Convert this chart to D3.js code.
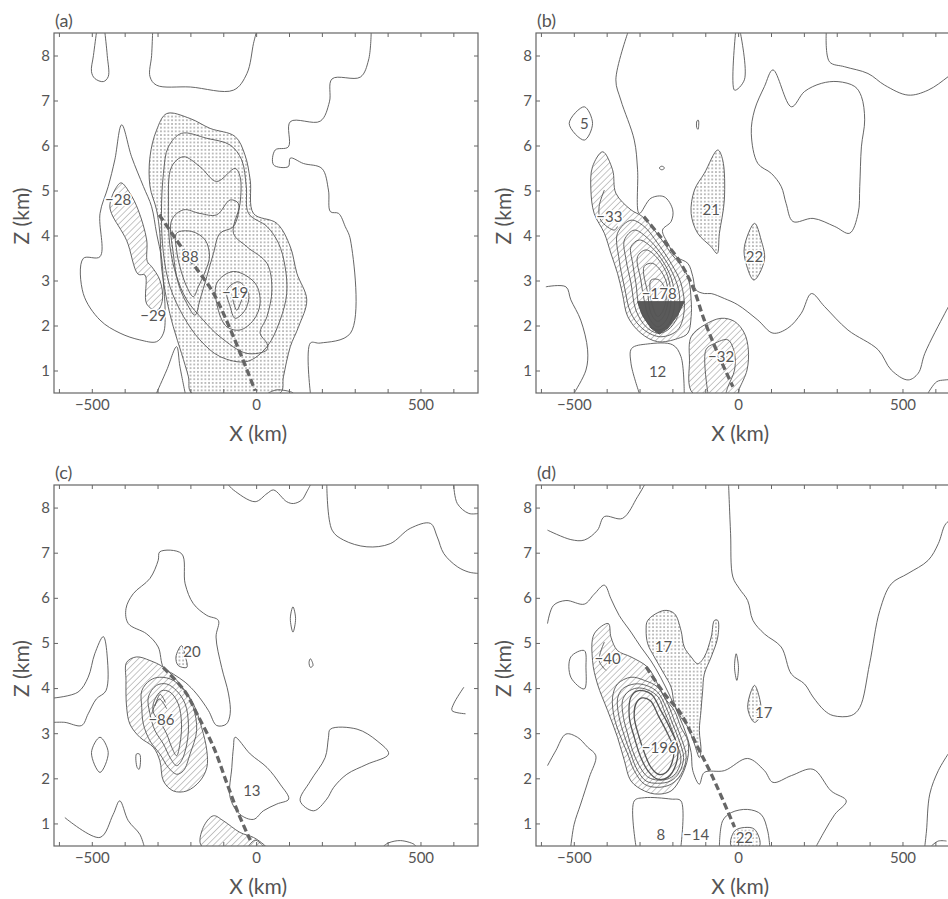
<!DOCTYPE html>
<html><head><meta charset="utf-8">
<script src="https://cdn.jsdelivr.net/npm/d3@7"></script>
<style>
body{margin:0;background:#fff;}
svg text{font-family:Lato,"Open Sans",sans-serif;fill:#555;}
</style></head><body>
<svg id="chart" width="948" height="899"></svg>
<script>
// ---------- axis values ----------
const xTickValues = [-600,-500,-400,-300,-200,-100,0,100,200,300,400,500,600];
const xTickLabels = [-500,0,500];
const zTickValues = [1,2,3,4,5,6,7,8];
const panelNames = ["(a)","(b)","(c)","(d)"];

// ---------- panel (a) ----------
const aOpen = [
 [[-486,8.5],[-495,8.0],[-501,7.64],[-491,7.49],[-465,7.42],[-450,7.53],[-453,8.0],[-460,8.5]],
 [[-315,8.5],[-318,8.0],[-323,7.53],[-303,7.34],[-200,7.3],[-69,7.23],[-28,7.6],[-8,8.27],[0,8.5]],
 [[350,8.5],[342,7.9],[317,7.52],[231,7.48],[223,6.97],[195,6.54],[104,6.53],[98,5.97],[58,5.9],[53,5.57],[98,5.53],[104,5.72],[144,5.6],[200,5.49],[220,5.01],[226,4.53],[251,4.49],[271,4.2],[287,3.9],[287,1.83],[195,1.61],[165,1.61],[165,0.5]],
 [[37,0.5],[63,0.57],[104,0.53],[113,0.5]],
 [[-303,0.5],[-272,1.01],[-242,1.53],[-232,1.09],[-216,0.5]],
 [[-74,2.68],[-59,2.34],[-41,2.64]]
];
const aClosed = [
 [[-409,6.46],[-379,5.75],[-343,5.09],[-318,4.64],[-303,4.05],[-287,3.46],[-282,2.94],[-277,2.34],[-282,1.83],[-303,1.64],[-354,1.68],[-414,1.83],[-475,2.12],[-526,2.71],[-526,3.49],[-475,3.53],[-475,4.49],[-450,5.09],[-430,5.68]],
 [[-267,5.97],[-227,6.27],[-150,6.16],[-79,6.01],[-44,5.68],[-30,5.09],[-23,4.49],[33,4.2],[68,3.83],[88,3.31],[93,2.71],[73,2.12],[33,1.53],[-28,1.2],[-110,1.31],[-171,1.68],[-221,2.2],[-262,2.86],[-282,3.6],[-288,4.49],[-282,5.38]],
 [[-257,5.53],[-221,5.75],[-171,5.53],[-120,5.2],[-64,5.49],[-49,5.31],[-49,4.71],[-69,4.05],[-28,3.75],[33,3.38],[48,2.79],[33,2.2],[12,1.83],[33,1.6],[33,1.46],[-28,1.38],[-110,1.75],[-161,2.12],[-211,2.57],[-242,3.09],[-262,3.75],[-267,4.64]],
 [[-257,4.34],[-221,4.57],[-171,4.49],[-120,4.46],[-79,4.79],[-54,4.71],[-69,4.2],[-110,4.05],[-130,3.6],[-150,3.09],[-171,2.57],[-186,2.23],[-211,2.49],[-237,2.94],[-252,3.6]],
 [[-242,4.05],[-196,4.09],[-155,3.9],[-142,3.53],[-155,3.2],[-176,2.86],[-191,2.64],[-211,2.86],[-232,3.31],[-242,3.68]],
 [[-120,2.94],[-69,3.2],[-3,2.94],[12,2.49],[-8,2.12],[-49,1.9],[-89,1.97],[-115,2.34]],
 [[-89,2.79],[-54,2.97],[-23,2.71],[-34,2.34],[-64,2.16],[-79,2.42]]
];
const aHatch = [
 [[-411,5.17],[-384,4.94],[-359,4.57],[-333,3.9],[-331,3.42],[-318,3.31],[-293,3.01],[-285,2.57],[-301,2.33],[-333,2.48],[-338,3.12],[-359,3.14],[-394,3.89],[-440,4.49],[-445,4.68],[-430,5.01]]
];
const aStipple = [
 [[-196,0.5],[-206,0.86],[-227,1.38],[-252,1.97],[-272,2.57],[-288,3.31],[-293,4.05],[-303,4.57],[-323,5.09],[-323,5.75],[-303,6.34],[-272,6.71],[-201,6.6],[-140,6.38],[-64,6.2],[-34,5.79],[-18,5.23],[-8,4.49],[63,4.27],[104,3.75],[124,3.16],[154,2.57],[129,1.97],[104,1.53],[83,0.86],[73,0.5]]
];
const aFront = [[-295,4.46],[-232,3.79],[-180,3.25],[-130,2.72],[-69,1.75],[-3,0.55]];
const aLabels = [["−28",-420,4.79],["−29",-313,2.23],["88",-201,3.53],["−19",-64,2.73]];

// ---------- panel (b) ----------
const bOpen = [
 [[-336,8.5],[-372,7.46],[-357,7.01],[-316,6.12],[-306,5.46],[-301,4.49],[-265,4.83],[-225,4.86],[-199,4.57],[-204,4.31],[-230,4.12],[-214,3.83],[-189,3.53],[-153,3.38],[-138,3.09],[-128,2.79],[-103,2.71],[-82,2.71],[-42,2.6],[-1,2.46],[60,2.12],[106,1.83],[151,1.94],[192,2.27],[223,2.71],[263,2.42],[334,1.9],[426,1.46],[466,1.01],[517,0.79],[548,0.94],[568,1.38],[629,2.27],[643,2.46],[675,2.9]],
 [[268,8.5],[278,7.86],[324,7.75],[395,7.6],[446,7.34],[517,7.12],[578,7.23],[639,7.53],[675,7.75]],
 [[-8,8.5],[-11,7.23],[19,7.46],[7,8.5]],
 [[-585,2.86],[-524,2.86],[-509,2.57],[-479,2.12],[-458,1.46],[-463,1.01],[-499,0.5]],
 [[578,0.5],[604,0.75],[629,0.79],[675,0.8]],
 [[-301,0.5],[-326,1.16],[-324,1.49],[-275,1.59],[-199,1.57],[-174,1.31],[-164,0.5]],
 [[-92,0.5],[-98,1.46],[-72,1.6],[-31,1.68],[-11,1.38],[-11,1.01],[-31,0.64],[-37,0.5]],
 [[-407,5.01],[-423,4.64],[-418,4.34],[-377,4.12],[-367,4.2]]
];
const bClosed = [
 [[106,7.68],[162,6.86],[202,7.2],[253,7.38],[304,7.42],[355,7.31],[375,7.09],[385,6.57],[375,5.97],[370,5.09],[365,4.49],[339,4.05],[294,4.2],[228,4.38],[167,4.31],[146,4.71],[131,5.09],[101,5.38],[60,5.6],[40,6.27],[50,6.79],[80,7.31]],
 [[-514,6.49],[-468,6.86],[-443,6.49],[-468,6.12]],
 [[-125,6.55],[-121,6.56],[-120,6.45],[-122,6.36],[-126,6.4]],
 [[-240,5.5],[-232,5.54],[-224,5.5],[-232,5.46]],
 [[-367,4.05],[-326,4.34],[-286,4.2],[-245,3.83],[-204,3.38],[-174,2.94],[-164,2.34],[-184,1.9],[-235,1.75],[-286,1.9],[-326,2.27],[-346,2.86],[-362,3.46]],
 [[-346,3.9],[-316,4.12],[-280,3.97],[-235,3.6],[-199,3.16],[-179,2.71],[-184,2.2],[-214,1.9],[-245,1.83],[-280,1.97],[-311,2.34],[-326,2.94],[-341,3.46]],
 [[-326,3.75],[-301,3.9],[-265,3.75],[-225,3.38],[-199,2.94],[-194,2.42],[-214,2.01],[-245,1.9],[-275,2.05],[-301,2.42],[-311,2.94],[-321,3.38]],
 [[-306,3.53],[-280,3.68],[-245,3.49],[-214,3.09],[-204,2.57],[-219,2.12],[-245,1.97],[-270,2.16],[-286,2.57],[-296,3.01]],
 [[-286,3.31],[-260,3.38],[-225,3.09],[-212,2.64],[-227,2.2],[-245,2.09],[-265,2.27],[-275,2.71]],
 [[-265,3.01],[-240,3.01],[-219,2.71],[-230,2.31],[-245,2.2],[-260,2.42],[-267,2.71]]
];
const bHatch = [
 [[-412,5.86],[-382,5.46],[-372,4.94],[-326,4.57],[-291,4.42],[-255,4.12],[-225,3.83],[-204,3.6],[-179,3.38],[-153,3.09],[-143,2.57],[-143,2.2],[-153,1.83],[-184,1.71],[-245,1.64],[-296,1.83],[-336,2.2],[-352,2.71],[-367,3.16],[-387,3.6],[-407,4.05],[-438,4.49],[-448,5.01],[-443,5.53]],
 [[-138,0.5],[-148,1.23],[-143,1.75],[-103,2.01],[-52,2.16],[-11,2.09],[19,1.83],[31,1.46],[27,1.01],[4,0.6],[-1,0.5]]
];
const bStipple = [
 [[-62,5.9],[-103,5.38],[-133,5.01],[-143,4.49],[-123,4.05],[-82,3.75],[-64,3.6],[-57,4.05],[-42,4.79],[-47,5.68]],
 [[50,4.27],[19,3.75],[24,3.38],[48,3.01],[80,3.46],[70,3.9]]
];
const bDark = [
 [[-306,2.53],[-164,2.53],[-184,2.23],[-214,1.94],[-240,1.81],[-265,1.94],[-291,2.23]]
];
const bFront = [[-287,4.42],[-245,4.05],[-184,3.49],[-138,2.86],[-103,2.12],[-62,1.38],[-16,0.64]];
const bLabels = [["5",-468,6.49],["−33",-392,4.42],["−178",-240,2.72],["21",-82,4.57],["22",50,3.53],["12",-245,0.97],["−32",-52,1.31]];

// ---------- panel (c) ----------
const cOpen = [
 [[-84,8.5],[-69,8.39],[-3,8.13],[33,8.31],[53,8.39],[93,8.13],[114,8.09],[139,8.17],[154,8.35],[165,8.5]],
 [[215,8.5],[231,7.5],[266,7.28],[337,7.13],[408,7.2],[469,7.54],[530,7.65],[551,7.35],[571,6.98],[612,6.69],[647,6.57],[677,6.54]],
 [[601,8.5],[612,8.09],[647,7.87],[677,7.87]],
 [[632,4.02],[601,3.65],[596,3.5],[637,3.43]],
 [[-615,3.78],[-542,3.91],[-511,4.24],[-491,4.76],[-465,5.14],[-453,4.69],[-457,3.94],[-486,3.76],[-511,3.43],[-531,3.17],[-582,3.24],[-615,3.24]],
 [[-582,1.13],[-475,0.69],[-435,1.2],[-415,1.5],[-389,1.06],[-354,0.76],[-341,0.5]],
 [[-23,0.5],[-3,0.63],[22,0.5]],
 [[388,0.5],[403,0.57],[439,0.62],[480,0.54],[485,0.5]],
 [[-318,3.43],[-295,3.76],[-272,3.54]],
 [[-308,3.6],[-292,3.86],[-276,3.68]]
];
const cClosed = [
 [[226,3.09],[307,3.09],[368,2.83],[403,2.54],[337,2.31],[276,2.09],[236,1.8],[215,1.54],[175,1.28],[134,1.5],[165,1.94],[210,2.46],[220,2.9]],
 [[-64,2.91],[-18,2.54],[33,2.24],[73,1.87],[99,1.54],[63,1.43],[22,1.28],[-8,1.09],[-49,1.2],[-79,1.57],[-74,2.24],[-69,2.69]],
 [[-282,4.46],[-298,4.91],[-333,5.2],[-389,5.43],[-396,5.76],[-374,6.09],[-323,6.43],[-298,6.83],[-293,7.02],[-227,6.98],[-216,6.31],[-191,5.87],[-150,5.61],[-115,5.5],[-122,5.13],[-105,4.46],[-84,3.87],[-79,3.43],[-91,3.2],[-120,3.17],[-145,3.5],[-181,3.87],[-216,4.13],[-252,4.31]],
 [[-475,2.91],[-501,2.57],[-475,2.13],[-450,2.57]],
 [[-364,2.54],[-354,2.53],[-356,2.2],[-362,2.24]],
 [[112,5.8],[104,5.54],[112,5.24],[120,5.54]],
 [[165,4.65],[173,4.5],[165,4.46],[161,4.57]],
 [[-348,3.94],[-323,4.17],[-293,4.24],[-252,4.17],[-211,3.87],[-191,3.57],[-181,3.06],[-201,2.54],[-221,2.17],[-242,2.09],[-267,2.24],[-293,2.54],[-323,2.83],[-343,3.2],[-348,3.57]],
 [[-328,3.8],[-303,4.06],[-272,4.09],[-242,3.94],[-216,3.65],[-206,3.2],[-211,2.76],[-227,2.39],[-242,2.28],[-262,2.46],[-282,2.76],[-308,3.06],[-323,3.43]],
 [[-313,3.65],[-288,3.94],[-262,3.91],[-237,3.65],[-227,3.2],[-232,2.76],[-242,2.5],[-257,2.69],[-272,2.98],[-295,3.28],[-311,3.43]]
];
const cHatch = [
 [[-394,4.57],[-364,4.69],[-323,4.61],[-282,4.46],[-232,4.09],[-191,3.65],[-166,3.13],[-150,2.61],[-150,2.24],[-171,1.94],[-211,1.72],[-252,1.72],[-282,1.94],[-293,2.39],[-313,2.69],[-354,2.91],[-384,3.2],[-394,3.57],[-396,4.17]],
 [[-166,0.5],[-161,0.91],[-130,1.17],[-100,1.06],[-49,0.8],[-8,0.69],[22,0.54],[27,0.5]]
];
const cStipple = [
 [[-227,4.94],[-244,4.69],[-237,4.5],[-211,4.46],[-215,4.69]]
];
const cFront = [[-283,4.46],[-216,3.92],[-181,3.44],[-130,2.7],[-89,1.89],[-54,1.22],[-18,0.63]];
const cLabels = [["20",-195,4.8],["−86",-288,3.31],["13",-13,1.72]];

// ---------- panel (d) ----------
const dOpen = [
 [[-580,7.5],[-509,7.29],[-468,7.28],[-428,7.5],[-407,7.8],[-352,7.76],[-306,8.24],[-285,8.5]],
 [[-580,5.43],[-562,5.83],[-524,5.94],[-468,5.86],[-438,6.08],[-407,6.28],[-387,5.98],[-362,5.61],[-326,5.24],[-296,4.91],[-265,4.6],[-236,4.24],[-206,3.8],[-178,3.35],[-158,2.98],[-143,2.57],[-138,2.17],[-118,1.87],[-103,2.13],[-42,2.17],[29,2.44],[80,2.17],[106,1.91],[162,2.06],[228,2.2],[283,1.72],[329,1.5],[294,1.2],[263,0.83],[238,0.5]],
 [[-29,8.5],[-23,7.43],[-16,6.46],[4,6.2],[29,5.94],[45,5.5],[80,5.2],[131,4.91],[162,4.31],[202,4.09],[228,3.8],[263,3.5],[289,3.39],[344,3.39],[370,3.57],[400,4.54],[431,5.72],[466,6.31],[517,6.54],[578,6.83],[609,7.2],[629,7.61],[644,7.72],[675,7.85]],
 [[639,2.54],[609,2.17],[583,1.65],[573,0.83],[568,0.5]],
 [[588,0.5],[609,0.61],[634,0.61]],
 [[-580,2.28],[-555,2.61],[-524,2.98],[-489,2.91],[-458,2.69],[-433,2.5],[-453,2.02],[-479,1.43],[-499,0.98],[-509,0.5]],
 [[-311,0.5],[-316,1.5],[-285,1.57],[-204,1.54],[-174,1.5],[-174,0.5]],
 [[-57,0.5],[-47,1.06],[-21,1.24],[29,1.31],[70,1.2],[90,0.83],[96,0.5]],
 [[-407,5.02],[-423,4.61],[-402,4.39]]
];
const dClosed = [
 [[-6,4.76],[-11,4.46],[-4,4.17],[1,4.46]],
 [[-468,4.83],[-509,4.69],[-509,4.24],[-468,3.98],[-463,4.46]],
 [[-382,3.8],[-367,4.09],[-326,4.24],[-285,4.17],[-245,4.02],[-214,3.65],[-194,3.28],[-174,2.91],[-158,2.46],[-174,2.09],[-204,1.87],[-245,1.8],[-285,1.87],[-316,2.17],[-336,2.54],[-357,2.91],[-377,3.35]],
 [[-367,3.76],[-352,3.98],[-316,4.09],[-280,4.06],[-245,3.91],[-219,3.57],[-199,3.2],[-179,2.83],[-166,2.46],[-179,2.13],[-206,1.94],[-245,1.89],[-280,1.94],[-308,2.2],[-328,2.57],[-346,2.94],[-362,3.35]],
 [[-352,3.72],[-336,3.91],[-308,4.0],[-275,3.96],[-243,3.8],[-223,3.46],[-204,3.13],[-186,2.76],[-174,2.43],[-186,2.15],[-209,2.0],[-243,1.96],[-275,2.03],[-301,2.28],[-321,2.61],[-336,2.98],[-349,3.35]]
];
const dHeavy = [
 [[-331,3.35],[-326,3.8],[-306,3.94],[-265,3.87],[-235,3.5],[-204,3.06],[-184,2.69],[-189,2.31],[-214,2.02],[-245,1.98],[-275,2.17],[-296,2.46],[-316,2.91]],
 [[-316,3.35],[-311,3.65],[-293,3.78],[-267,3.72],[-243,3.39],[-214,2.98],[-196,2.65],[-201,2.35],[-219,2.13],[-243,2.09],[-265,2.24],[-283,2.52],[-301,2.91]]
];
const dHatch = [
 [[-395,5.43],[-387,5.13],[-367,4.83],[-326,4.69],[-275,4.46],[-245,4.09],[-225,3.8],[-194,3.5],[-174,3.13],[-153,2.83],[-153,2.46],[-174,2.02],[-204,1.72],[-245,1.65],[-285,1.72],[-326,1.94],[-346,2.39],[-367,2.91],[-397,3.5],[-428,4.09],[-443,4.61],[-438,5.2]]
];
const dStipple = [
 [[-275,5.5],[-225,5.72],[-194,5.65],[-174,5.28],[-164,4.91],[-143,4.69],[-123,4.54],[-103,4.69],[-82,5.13],[-72,5.5],[-62,5.5],[-62,5.13],[-82,4.69],[-103,4.31],[-108,3.94],[-113,3.5],[-118,3.06],[-113,2.61],[-118,2.46],[-133,2.76],[-153,3.13],[-174,3.35],[-194,3.65],[-204,4.02],[-225,4.31],[-255,4.69],[-275,4.98],[-280,5.28]],
 [[50,4.06],[29,3.57],[50,3.24],[70,3.43]],
 [[-21,0.5],[-11,0.83],[19,0.91],[50,0.87],[65,0.5]]
];
const dFront = [[-280,4.47],[-225,3.88],[-174,3.43],[-123,2.69],[-77,2.02],[-11,0.92]];
const dLabels = [["−40",-397,4.65],["17",-227,4.91],["17",78,3.46],["−196",-240,2.69],["8",-235,0.76],["−14",-128,0.76],["22",19,0.69]];

// ---------- drawing ----------
const svg = d3.select("#chart");
const defs = svg.append("defs");
const hatch = defs.append("pattern").attr("id","hatch").attr("patternUnits","userSpaceOnUse")
  .attr("width",4.4).attr("height",4.4).attr("patternTransform","rotate(45)");
hatch.append("line").attr("x1",0).attr("y1",0).attr("x2",0).attr("y2",4.4)
  .attr("stroke","#6a6a6a").attr("stroke-width",0.75);
const dots = defs.append("pattern").attr("id","dots").attr("patternUnits","userSpaceOnUse")
  .attr("width",3.7).attr("height",3.7);
dots.append("circle").attr("cx",1.85).attr("cy",1.85).attr("r",0.68).attr("fill","#555");

const W = 424;
const panels = [
 {L:54, T:33, B:393, open:aOpen, closed:aClosed, heavy:[], hatch:aHatch, stipple:aStipple, dark:[], front:aFront, labels:aLabels},
 {L:536,T:33, B:393, open:bOpen, closed:bClosed, heavy:[], hatch:bHatch, stipple:bStipple, dark:bDark, front:bFront, labels:bLabels},
 {L:54, T:485,B:846, open:cOpen, closed:cClosed, heavy:[], hatch:cHatch, stipple:cStipple, dark:[], front:cFront, labels:cLabels},
 {L:536,T:485,B:846, open:dOpen, closed:dClosed, heavy:dHeavy, hatch:dHatch, stipple:dStipple, dark:[], front:dFront, labels:dLabels}
];
const fmt = d => d < 0 ? "−" + Math.abs(d) : String(d);

panels.forEach((p,i) => {
  const x = d3.scaleLinear().domain([-615,675]).range([p.L, p.L + W]);
  const y = d3.scaleLinear().domain([0.5,8.5]).range([p.B, p.T]);
  defs.append("clipPath").attr("id","clip"+i).append("rect")
    .attr("x",p.L).attr("y",p.T).attr("width",W).attr("height",p.B-p.T);
  const g = svg.append("g").attr("clip-path",`url(#clip${i})`);
  const openLine = d3.line().x(d=>x(d[0])).y(d=>y(d[1])).curve(d3.curveCatmullRom.alpha(0.5));
  const closedLine = d3.line().x(d=>x(d[0])).y(d=>y(d[1])).curve(d3.curveCatmullRomClosed.alpha(0.5));
  const linLine = d3.line().x(d=>x(d[0])).y(d=>y(d[1]));

  g.selectAll(".st").data(p.stipple).join("path").attr("d",closedLine)
    .attr("fill","url(#dots)").attr("stroke","#555").attr("stroke-width",0.9);
  g.selectAll(".ht").data(p.hatch).join("path").attr("d",closedLine)
    .attr("fill","url(#hatch)").attr("stroke","#555").attr("stroke-width",0.9);
  g.selectAll(".dk").data(p.dark).join("path").attr("d",d=>linLine(d)+"Z")
    .attr("fill","#5a5a5a").attr("stroke","#555");
  g.selectAll(".cl").data(p.closed).join("path").attr("d",closedLine)
    .attr("fill","none").attr("stroke","#555").attr("stroke-width",0.9);
  g.selectAll(".hv").data(p.heavy).join("path").attr("d",closedLine)
    .attr("fill","none").attr("stroke","#555").attr("stroke-width",1.3);
  g.selectAll(".op").data(p.open).join("path").attr("d",openLine)
    .attr("fill","none").attr("stroke","#555").attr("stroke-width",0.9);
  g.append("path").attr("d",openLine(p.front)).attr("fill","none")
    .attr("stroke","#666").attr("stroke-width",3.3).attr("stroke-dasharray","7,3.5");

  g.selectAll(".lb").data(p.labels).join("text")
    .attr("x",d=>x(d[1])).attr("y",d=>y(d[2])).attr("dy","0.36em")
    .attr("text-anchor","middle").attr("font-size",15)
    .attr("stroke","#fff").attr("stroke-width",3).attr("paint-order","stroke")
    .text(d=>d[0]);

  // frame
  svg.append("rect").attr("x",p.L).attr("y",p.T).attr("width",W).attr("height",p.B-p.T)
    .attr("fill","none").attr("stroke","#666").attr("stroke-width",1.2);

  const styleAxis = sel => {
    sel.select(".domain").remove();
    sel.selectAll("line").attr("stroke","#666").attr("stroke-width",1);
    sel.attr("font-family","Lato, 'Open Sans', sans-serif").attr("font-size",15);
    sel.selectAll("text").attr("fill","#555");
  };
  svg.append("g").attr("transform",`translate(0,${p.B})`)
    .call(d3.axisBottom(x).tickValues(xTickValues).tickSize(-4).tickSizeOuter(0).tickPadding(6)
      .tickFormat(d => xTickLabels.includes(d) ? fmt(d) : ""))
    .call(styleAxis);
  svg.append("g").attr("transform",`translate(0,${p.T})`)
    .call(d3.axisTop(x).tickValues(xTickValues).tickSize(-4).tickSizeOuter(0).tickFormat(""))
    .call(styleAxis);
  svg.append("g").attr("transform",`translate(${p.L},0)`)
    .call(d3.axisLeft(y).tickValues(zTickValues).tickSize(-4).tickSizeOuter(0).tickPadding(4).tickFormat(d3.format("d")))
    .call(styleAxis);
  svg.append("g").attr("transform",`translate(${p.L+W},0)`)
    .call(d3.axisRight(y).tickValues(zTickValues).tickSize(-4).tickSizeOuter(0).tickFormat(""))
    .call(styleAxis);

  // titles
  svg.append("text").attr("x",p.L+1).attr("y",p.T-6).attr("font-size",18).text(panelNames[i]);
  svg.append("text").attr("x",x(0)+2).attr("y",p.B+48).attr("text-anchor","middle")
    .attr("font-size",21).text("X (km)");
  svg.append("text").attr("transform",`translate(${p.L-25},${(p.T+p.B)/2+3}) rotate(-90)`)
    .attr("text-anchor","middle").attr("font-size",21).text("Z (km)");
});
</script>
</body></html>
